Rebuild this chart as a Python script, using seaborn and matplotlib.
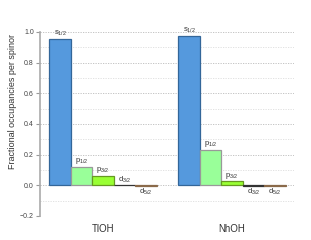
import matplotlib
matplotlib.use("Agg")
import matplotlib.pyplot as plt
import seaborn as sns
import pandas as pd
from matplotlib.ticker import MultipleLocator

molecules = ["TlOH", "NhOH"]
orbitals = ["s1/2", "p1/2", "p3/2", "d3/2", "d5/2"]
orbital_labels = [r"$\mathrm{s}_{1/2}$", r"$\mathrm{p}_{1/2}$", r"$\mathrm{p}_{3/2}$",
                  r"$\mathrm{d}_{3/2}$", r"$\mathrm{d}_{5/2}$"]
tloh_values = [0.956, 0.122, 0.063, 0.0, -0.004]
nhoh_values = [0.977, 0.233, 0.026, -0.003, -0.004]
fill_colors = ["#5599DD", "#99FF99", "#99FF33", "#444444", "#A07A5A"]
edge_colors = ["#336699", "#999999", "#669922", "#333333", "#8A6A4A"]

rows = []
for mol, vals in zip(molecules, [tloh_values, nhoh_values]):
    for orb, v in zip(orbitals, vals):
        rows.append({"molecule": mol, "orbital": orb, "value": v})
df = pd.DataFrame(rows)

sns.set_style("white")
plt.rcParams["font.family"] = ["Liberation Sans", "DejaVu Sans"]
plt.rcParams["mathtext.fontset"] = "custom"
plt.rcParams["mathtext.rm"] = "Liberation Sans"
plt.rcParams["mathtext.it"] = "Liberation Sans:italic"

fig = plt.figure(figsize=(3.11, 2.40), dpi=100)
ax = fig.add_axes([40 / 311, 1 - 216 / 240, (294 - 40) / 311, (216 - 32) / 240])

sns.barplot(data=df, x="molecule", y="value", hue="orbital", order=molecules,
            hue_order=orbitals, palette=fill_colors, width=5 / 6, dodge=True,
            legend=False, ax=ax, saturation=1, linewidth=0.9, errorbar=None)

for i, cont in enumerate(ax.containers):
    for bar in cont:
        bar.set_edgecolor(edge_colors[i])
        bar.set_linewidth(0.9)
        h = bar.get_height()
        y = bar.get_y() + h
        cx = bar.get_x() + bar.get_width() / 2
        if h >= 0:
            ax.annotate(orbital_labels[i], (cx, max(y, 0)), xytext=(0, 0.5),
                        textcoords="offset points", ha="center", va="bottom",
                        fontsize=5.5, color="#333333")
        else:
            ax.annotate(orbital_labels[i], (cx, min(y, 0)), xytext=(0, -0.5),
                        textcoords="offset points", ha="center", va="top",
                        fontsize=5.5, color="#333333")

ax.set_ylim(-0.2, 1.0)
ax.set_xlim(-0.49, 1.48)
ax.yaxis.set_major_locator(MultipleLocator(0.2))
ax.yaxis.set_minor_locator(MultipleLocator(0.1))
ax.grid(axis="y", which="major", linestyle=(0, (1.5, 1.5)), color="#BBBBBB", linewidth=0.6)
ax.grid(axis="y", which="minor", linestyle=(0, (1.5, 1.5)), color="#DDDDDD", linewidth=0.6)
ax.grid(axis="x", visible=False)
ax.set_axisbelow(True)

for s in ["top", "right", "bottom"]:
    ax.spines[s].set_visible(False)
ax.spines["left"].set_color("#AAAAAA")
ax.spines["left"].set_linewidth(1.2)

ax.tick_params(axis="y", which="major", direction="out", length=3, width=0.8,
               color="#999999", labelsize=5, labelcolor="#444444", pad=1.5, left=True)
ax.tick_params(axis="y", which="minor", left=False)
ax.tick_params(axis="x", length=0, labelsize=7, labelcolor="#333333", pad=6)
ax.set_yticks([-0.2, 0.0, 0.2, 0.4, 0.6, 0.8, 1.0])
ax.set_yticklabels(["\u22120.2", "0.0", "0.2", "0.4", "0.6", "0.8", "1.0"])

ax.set_xlabel("")
ax.set_ylabel("Fractional occupancies per spinor", fontsize=6.5, color="#333333")
ax.yaxis.set_label_coords(-0.09, 0.62)

fig.savefig("out.png", dpi=100)
